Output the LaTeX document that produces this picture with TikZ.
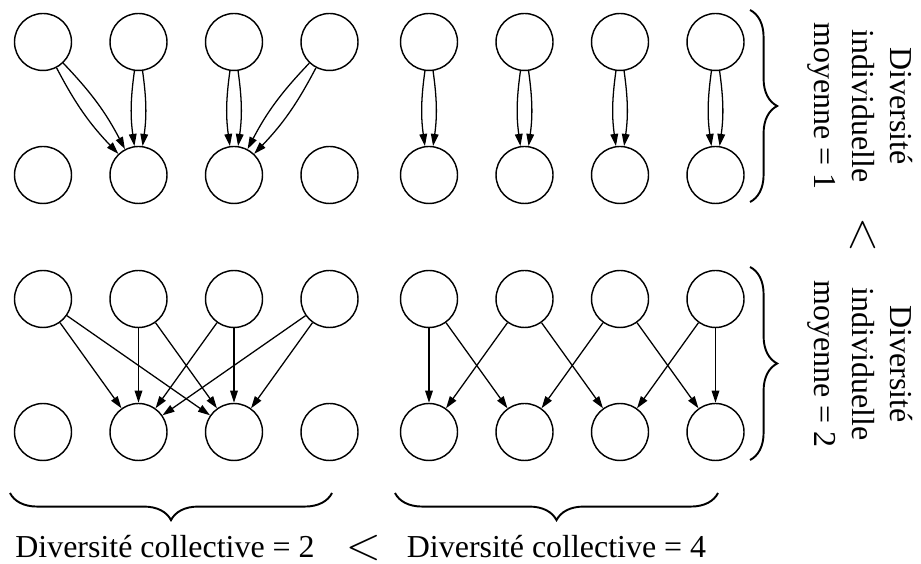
\documentclass[tikz,border=0pt]{standalone}
\usepackage{fontspec}
\setmainfont{Liberation Serif}
\usepackage{tikz}
\usetikzlibrary{arrows.meta}
\usetikzlibrary{decorations.pathreplacing}

\begin{document}
\begin{tikzpicture}[x=0.011cm,y=0.011cm,
    state/.style={draw,circle,minimum size=0.627cm,inner sep=0pt,line width=0.45pt},
    arr/.style={-{Triangle[length=3.8pt,width=2.4pt]},line width=0.4pt},
    brace/.style={decorate,decoration={brace,amplitude=8.5pt},line width=0.6pt},
    lbl/.style={font=\fontsize{10}{12}\selectfont,align=center},
    rel/.style={font=\fontsize{14.4}{17}\selectfont,inner sep=0pt}]
  \useasboundingbox (0,0) rectangle (921,564);
  % four groups of eight states
  \foreach \g/\gx/\gy in {tl/43/522, tr/429/522, bl/43/265, br/429/265}
    \foreach \i in {1,...,4} {
      \node[state] (\g u\i) at ({\gx+95.5*(\i-1)},\gy) {};
      \node[state] (\g d\i) at ({\gx+95.5*(\i-1)},\gy-133) {};
    }
  \foreach \s/\t in {1/2,2/2,3/3,4/3} {
    \draw[arr] (tlu\s) to[bend left=8] (tld\t);
    \draw[arr] (tlu\s) to[bend right=8] (tld\t);
  }
  \foreach \i in {1,...,4} {
    \draw[arr] (tru\i) to[bend left=8] (trd\i);
    \draw[arr] (tru\i) to[bend right=8] (trd\i);
  }
  \foreach \s in {1,...,4}
    \foreach \t in {2,3}
      \draw[arr] (blu\s) -- (bld\t);
  \foreach \s/\t in {1/1,1/2,2/1,2/3,3/2,3/4,4/3,4/4}
    \draw[arr] (bru\s) -- (brd\t);

  % braces and labels
  \draw[brace] (750,554) -- (750,362);
  \draw[brace] (750,297) -- (750,104);
  \draw[brace] (332,71) -- (10,71);
  \draw[brace] (718,71) -- (395,71);
  \node[lbl,rotate=-90] (ind1) at (860,458) {Diversité\\individuelle\\moyenne = 1};
  \node[lbl,rotate=-90] (ind2) at (860,200) {Diversité\\individuelle\\moyenne = 2};
  \node[rel,rotate=-90] (lt1) at (862.5,329) {$<$};
  \node[lbl,anchor=base] (col1) at (165,6) {Diversité collective = 2};
  \node[rel] (lt2) at (363.5,16) {$<$};
  \node[lbl,anchor=base] (col2) at (556.5,6) {Diversité collective = 4};
\end{tikzpicture}
\end{document}
